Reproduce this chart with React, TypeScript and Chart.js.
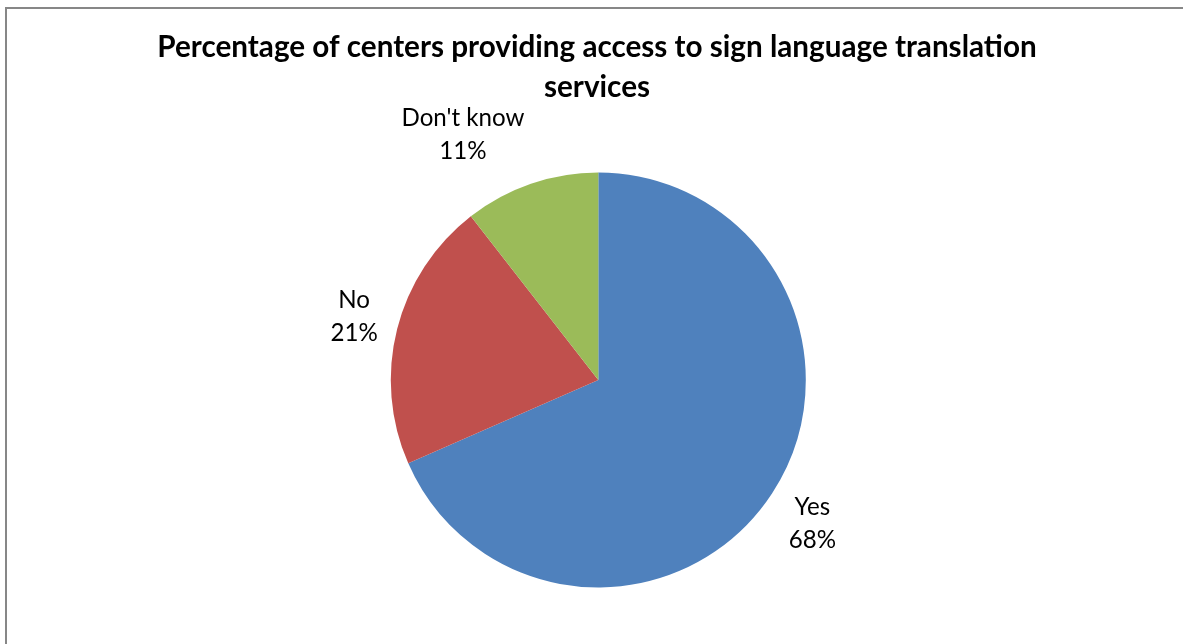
import React, { useEffect, useRef } from "react";
import { Chart, registerables } from "chart.js";

Chart.register(...registerables);

const categories = ["Yes", "No", "Don't know"];
const counts = [13, 4, 2];
const colors = ["#4F81BD", "#C0504D", "#9BBB59"];
const titleLines = [
  "Percentage of centers providing access to sign language translation",
  "services",
];

const FONT = "Lato, 'Open Sans', sans-serif";

export default function App() {
  const ref = useRef<HTMLCanvasElement>(null);

  useEffect(() => {
    const canvas = ref.current!;
    const mctx = canvas.getContext("2d")!;
    const fit = (weight: string, text: string, target: number) => {
      mctx.font = `${weight} 100px ${FONT}`;
      return (100 * target) / mctx.measureText(text).width;
    };
    const titleSize = fit("bold", titleLines[0], 880);
    const labelSize = fit("normal", "Don't know", 123);
    const total = counts.reduce((a, b) => a + b, 0);

    const framePlugin = {
      id: "frame",
      beforeDraw(chart: any) {
        const ctx = chart.ctx as CanvasRenderingContext2D;
        ctx.save();
        ctx.fillStyle = "#ffffff";
        ctx.fillRect(0, 0, chart.width, chart.height);
        ctx.strokeStyle = "#878787";
        ctx.lineWidth = 2;
        ctx.strokeRect(6, 8, 2000, 2000);
        ctx.restore();
      },
      afterDraw(chart: any) {
        const ctx = chart.ctx as CanvasRenderingContext2D;
        ctx.save();
        ctx.fillStyle = "#000000";
        ctx.font = `bold ${titleSize}px ${FONT}`;
        ctx.textAlign = "center";
        ctx.textBaseline = "alphabetic";
        const baselines = [57.3, 96.7];
        titleLines.forEach((t, i) => ctx.fillText(t, 597, baselines[i]));
        ctx.restore();
      },
    };

    const labelPlugin = {
      id: "outLabels",
      afterDatasetsDraw(chart: any) {
        const ctx = chart.ctx as CanvasRenderingContext2D;
        const meta = chart.getDatasetMeta(0);
        ctx.save();
        ctx.fillStyle = "#000000";
        ctx.font = `normal ${labelSize}px ${FONT}`;
        ctx.textAlign = "center";
        ctx.textBaseline = "alphabetic";
        const lineH = 33;
        const gap = 20;
        meta.data.forEach((arc: any, i: number) => {
          const { x, y, startAngle, endAngle, outerRadius } = arc.getProps(
            ["x", "y", "startAngle", "endAngle", "outerRadius"],
            true
          );
          const mid = (startAngle + endAngle) / 2;
          const ux = Math.cos(mid);
          const uy = Math.sin(mid);
          const lines = [
            categories[i],
            Math.round((counts[i] / total) * 100) + "%",
          ];
          const w = Math.max(...lines.map((l) => ctx.measureText(l).width));
          const h = lineH * lines.length;
          const px = x + (outerRadius + gap) * ux;
          const py = y + (outerRadius + gap) * uy;
          const cx = px + Math.sign(ux) * (w / 2);
          const cy = py + uy * (h / 2);
          lines.forEach((l, j) => {
            const capCenter = cy - (lineH * (lines.length - 1)) / 2 + j * lineH;
            ctx.fillText(l, cx, capCenter + 8.75);
          });
        });
        ctx.restore();
      },
    };

    const chart = new Chart(canvas, {
      type: "pie",
      data: {
        labels: categories,
        datasets: [
          {
            data: counts,
            backgroundColor: colors,
            borderWidth: 0,
          },
        ],
      },
      options: {
        animation: false,
        responsive: false,
        events: [],
        layout: {
          padding: { left: 390.8, right: 377.2, top: 172.5, bottom: 56.5 },
        },
        plugins: {
          legend: { display: false },
          tooltip: { enabled: false },
          title: { display: false },
        },
      },
      plugins: [framePlugin, labelPlugin],
    });

    return () => chart.destroy();
  }, []);

  return (
    <div
      style={{
        position: "absolute",
        left: 0,
        top: 0,
        width: 1183,
        height: 644,
        background: "#ffffff",
      }}
    >
      <canvas
        ref={ref}
        width={1183}
        height={644}
        style={{ display: "block", width: 1183, height: 644 }}
      />
    </div>
  );
}
